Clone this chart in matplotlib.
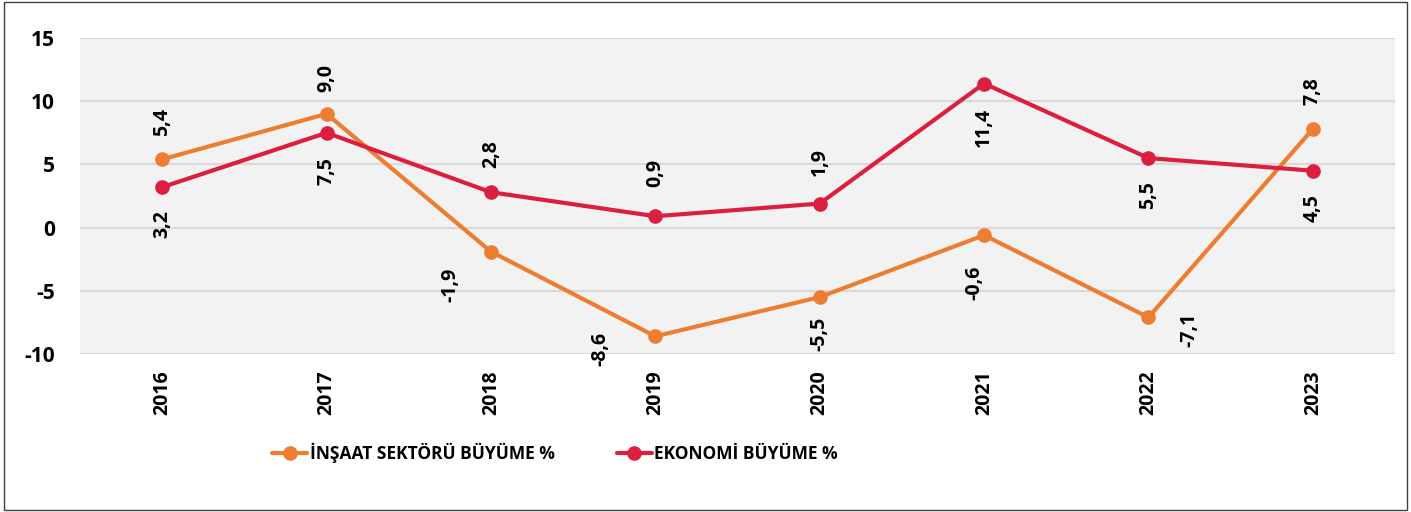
import matplotlib.pyplot as plt
from matplotlib.patches import Rectangle

years = ["2016", "2017", "2018", "2019", "2020", "2021", "2022", "2023"]
insaat = [5.4, 9.0, -1.9, -8.6, -5.5, -0.6, -7.1, 7.8]
ekonomi = [3.2, 7.5, 2.8, 0.9, 1.9, 11.4, 5.5, 4.5]
insaat_label = "İNŞAAT SEKTÖRÜ BÜYÜME %"
ekonomi_label = "EKONOMİ BÜYÜME %"
y_ticks = [-10, -5, 0, 5, 10, 15]

ORANGE = "#ED7D31"
RED = "#DC1F3F"
FONT = "Open Sans"

# label placement (dx, dy in pixels, va)
insaat_pos = [(0, 23, "bottom"), (0, 22, "bottom"), (-41, -16, "top"), (-55, 4, "top"),
              (0, -20, "top"), (-10, -30, "top"), (41, 5, "top"), (0, 24, "bottom")]
ekonomi_pos = [(0, -23, "top"), (0, -24, "top"), (0, 24, "bottom"), (0, 29, "bottom"),
               (0, 28, "bottom"), (0, -24, "top"), (0, -23, "top"), (0, -23, "top")]

plt.rcParams["font.family"] = [FONT, "DejaVu Sans"]
plt.rcParams["font.weight"] = "bold"
plt.rcParams["axes.unicode_minus"] = False

fig = plt.figure(figsize=(14.11, 5.12), dpi=100)
ax = fig.add_axes([80 / 1411, 1 - 354 / 512, 1315 / 1411, 316 / 512])
ax.set_facecolor("#F2F2F2")

x = list(range(len(years)))
ax.plot(x, insaat, color=ORANGE, lw=3, marker="o", ms=9.5, label=insaat_label,
        solid_capstyle="round", zorder=3)
ax.plot(x, ekonomi, color=RED, lw=3, marker="o", ms=9.5, label=ekonomi_label,
        solid_capstyle="round", zorder=3)

for vals, pos in ((insaat, insaat_pos), (ekonomi, ekonomi_pos)):
    for i, (v, (dx, dy, va)) in enumerate(zip(vals, pos)):
        ax.annotate(f"{v:.1f}".replace(".", ","), (i, v), xytext=(dx, dy),
                    textcoords="offset pixels", rotation=90, ha="center", va=va,
                    fontsize=14, fontweight="bold", color="black", zorder=4)

ax.set_xlim(-0.5, len(years) - 0.5)
ax.set_ylim(-10, 15)
ax.set_yticks(y_ticks)
ax.set_xticks(x)
ax.set_xticklabels(years, rotation=90, fontsize=14, fontweight="bold")
ax.tick_params(axis="y", length=0, pad=18, labelsize=15)
ax.tick_params(axis="x", length=0, pad=12)
ax.grid(axis="y", color="#D9D9D9", lw=1.5)
ax.set_axisbelow(True)
for s in ax.spines.values():
    s.set_visible(False)

fig.legend(loc="center", bbox_to_anchor=(555 / 1411, 1 - 453 / 512), ncol=2,
           frameon=False, handlelength=2.0, handletextpad=0.15, columnspacing=3.6,
           prop={"family": FONT, "weight": "bold", "size": 12.5})

fig.patches.append(Rectangle((0.003, 0.003), 0.994, 0.994, transform=fig.transFigure,
                             fill=False, edgecolor="#404040", lw=1))

fig.savefig("out.png", dpi=100)
